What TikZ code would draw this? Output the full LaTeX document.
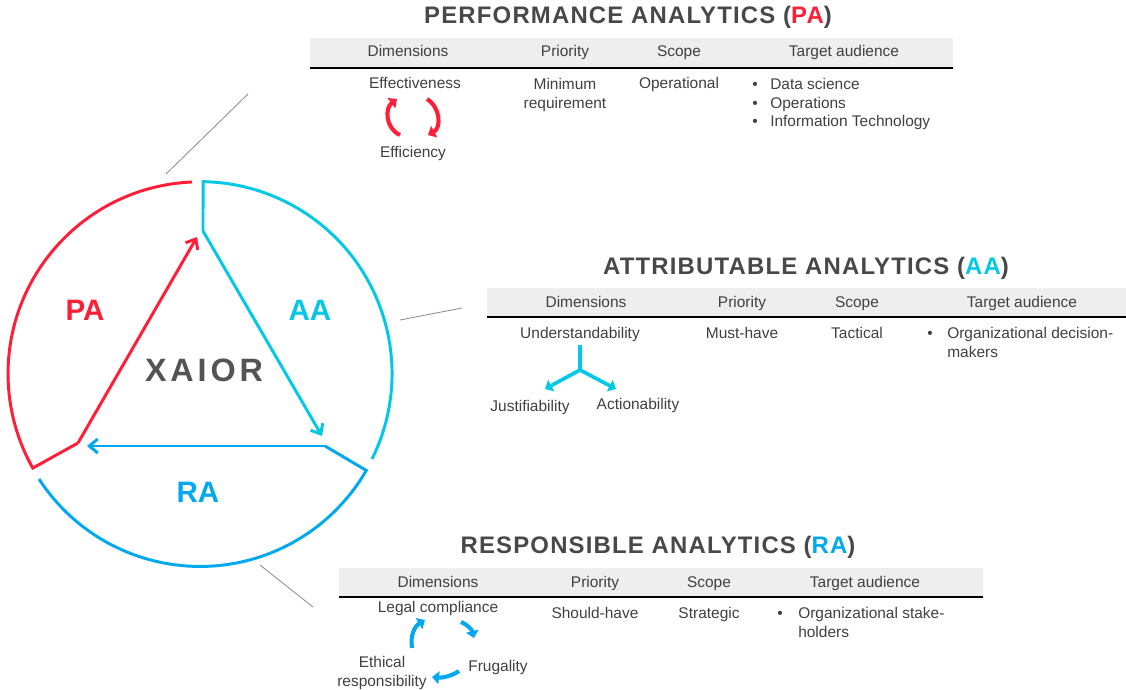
\documentclass[tikz,border=0pt]{standalone}
\usepackage{fontspec}
\setmainfont{Liberation Sans}
\newfontfamily\titlefont{Liberation Sans}[LetterSpace=5]
\newfontfamily\logofont{Liberation Sans}[LetterSpace=12]
\usetikzlibrary{arrows.meta}
\definecolor{paRed}{RGB}{255,30,55}
\definecolor{aaCyan}{RGB}{0,200,230}
\definecolor{raBlue}{RGB}{0,168,240}
\definecolor{txtGray}{RGB}{64,64,64}
\definecolor{ttlGray}{RGB}{72,72,72}
\definecolor{bandGray}{RGB}{238,238,238}
\definecolor{lineGray}{RGB}{140,140,140}

\begin{document}
\begin{tikzpicture}[x=0.025cm,y=-0.025cm,
  ring/.style={line width=2.1pt},
  barb/.style={-{Straight Barb[length=6pt,width=10pt]}},
  flow/.style={line width=2.9pt,-{Triangle[length=5pt,width=9pt]}},
  leader/.style={lineGray,line width=0.6pt},
  cell/.style={font=\fontsize{11}{13.5}\selectfont,text=txtGray,inner sep=0pt,anchor=base,align=center},
  ttl/.style={font=\titlefont\bfseries\fontsize{17}{20}\selectfont,text=ttlGray,inner sep=0pt,anchor=base},
  big/.style={font=\bfseries\fontsize{21}{24}\selectfont,inner sep=0pt}]

  \useasboundingbox (0,0) rectangle (1126,690);

  % circle of the three analytics
  \draw[ring,paRed] (192,182) arc[start angle=-92.4,end angle=-209.4,radius=192] -- (78,443) coordinate (pa-knee);
  \draw[ring,paRed,barb] (pa-knee) -- (197,237) coordinate (pa-tip);
  \draw[ring,aaCyan] (372,459) arc[start angle=26.4,end angle=-89.1,radius=192] -- (203,231) coordinate (aa-knee);
  \draw[ring,aaCyan,barb] (aa-knee) -- (322,436) coordinate (aa-tip);
  \draw[ring,raBlue] (39,479) arc[start angle=147,end angle=30,radius=192] -- (325,446) coordinate (ra-knee);
  \draw[ring,raBlue,barb] (ra-knee) -- (87,446) coordinate (ra-tip);

  \node[big,text=paRed] (pa-lbl) at (85,310) {PA};
  \node[big,text=aaCyan] (aa-lbl) at (310,310) {AA};
  \node[big,text=raBlue] (ra-lbl) at (198,492) {RA};
  \node[font=\logofont\bfseries\fontsize{23}{26}\selectfont,text=black!67,inner sep=0pt] (xaior) at (204,370) {XAIOR};

  % leaders to the tables
  \coordinate (pa-from) at (166,174); \coordinate (pa-to) at (248,94);
  \coordinate (aa-from) at (400,320); \coordinate (aa-to) at (462,308);
  \coordinate (ra-from) at (260,565); \coordinate (ra-to) at (313,607);
  \draw[leader] (pa-from) -- (pa-to);
  \draw[leader] (aa-from) -- (aa-to);
  \draw[leader] (ra-from) -- (ra-to);

  % PA table
  \node[ttl] (pa-title) at (628,24) {PERFORMANCE ANALYTICS (\textcolor{paRed}{PA})};
  \fill[bandGray] (310,38) rectangle (953,68);
  \draw[line width=1pt] (310,68) -- (953,68);
  \node[cell] (pa-dim) at (408,57) {Dimensions};
  \node[cell] (pa-pri) at (565,57) {Priority};
  \node[cell] (pa-sco) at (679,57) {Scope};
  \node[cell] (pa-aud) at (844,57) {Target audience};
  \node[cell] (pa-eff) at (415,89) {Effectiveness};
  \node[cell] (pa-effi) at (413,157) {Efficiency};
  \node[cell] (pa-min) at (565,108) {Minimum\\requirement};
  \node[cell] (pa-ope) at (679,89) {Operational};
  \node[cell] (pa-bul) at (755,127) {•\\•\\•};
  \node[cell,anchor=base west,align=left] (pa-who) at (770,127) {Data science\\Operations\\Information Technology};
  \draw[flow,paRed] (400,135) .. controls (385,128) and (385,108) .. (397,99);
  \draw[flow,paRed] (427,99) .. controls (441,108) and (441,128) .. (428,135);

  % AA table
  \node[ttl] (aa-title) at (806,274) {ATTRIBUTABLE ANALYTICS (\textcolor{aaCyan}{AA})};
  \fill[bandGray] (487,288) rectangle (1126,317);
  \draw[line width=1pt] (487,317) -- (1126,317);
  \node[cell] (aa-dim) at (586,307) {Dimensions};
  \node[cell] (aa-pri) at (742,307) {Priority};
  \node[cell] (aa-sco) at (857,307) {Scope};
  \node[cell] (aa-aud) at (1022,307) {Target audience};
  \node[cell] (aa-und) at (580,338) {Understandability};
  \node[cell] (aa-jus) at (530,411) {Justifiability};
  \node[cell] (aa-act) at (638,409) {Actionability};
  \node[cell] (aa-mus) at (742,338) {Must-have};
  \node[cell] (aa-tac) at (857,338) {Tactical};
  \node[cell] (aa-bul) at (930,338) {•};
  \node[cell,anchor=base west,align=left] (aa-who) at (947,357) {Organizational decision-\\makers};
  \coordinate (aa-fork) at (580,370);
  \draw[line width=2.6pt,aaCyan] (580,345) -- (aa-fork);
  \draw[flow,line width=2.6pt,aaCyan] (aa-fork) -- (545,389);
  \draw[flow,line width=2.6pt,aaCyan] (aa-fork) -- (616,389);

  % RA table
  \node[ttl] (ra-title) at (658,553) {RESPONSIBLE ANALYTICS (\textcolor{raBlue}{RA})};
  \fill[bandGray] (339,568) rectangle (983,597);
  \draw[line width=1pt] (339,597) -- (983,597);
  \node[cell] (ra-dim) at (438,587) {Dimensions};
  \node[cell] (ra-pri) at (595,587) {Priority};
  \node[cell] (ra-sco) at (709,587) {Scope};
  \node[cell] (ra-aud) at (865,587) {Target audience};
  \node[cell] (ra-leg) at (438,612) {Legal compliance};
  \node[cell] (ra-eth) at (382,686) {Ethical\\responsibility};
  \node[cell] (ra-fru) at (498,671) {Frugality};
  \node[cell] (ra-sho) at (595,618) {Should-have};
  \node[cell] (ra-str) at (709,618) {Strategic};
  \node[cell] (ra-bul) at (780,618) {•};
  \node[cell,anchor=base west,align=left] (ra-who) at (798,637) {Organizational stake-\\holders};
  \draw[flow,raBlue] (412,648) .. controls (410,635) and (415,626) .. (425,620);
  \draw[flow,raBlue] (461,622) .. controls (468,625) and (472,630) .. (474,638);
  \draw[flow,raBlue] (459,671) .. controls (452,676) and (442,678) .. (432,677);
\end{tikzpicture}
\end{document}
